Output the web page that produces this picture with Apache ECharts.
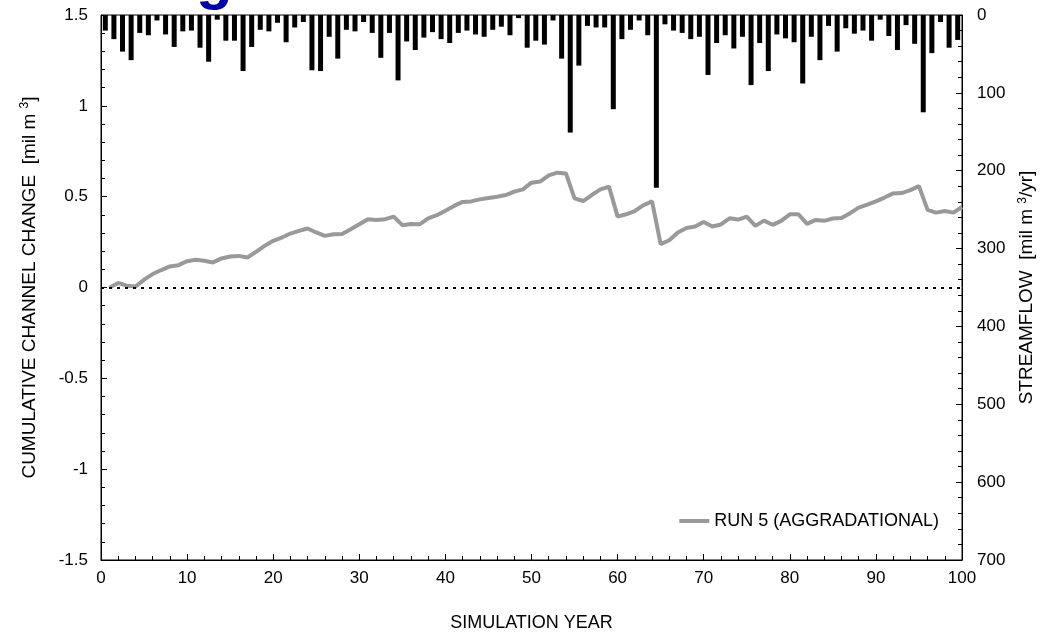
<!DOCTYPE html>
<html>
<head>
<meta charset="utf-8">
<script src="https://cdn.jsdelivr.net/npm/echarts@6/dist/echarts.min.js"></script>
<style>
  html, body { margin: 0; padding: 0; background: #fff; }
  #chart { width: 1050px; height: 637px; }
</style>
</head>
<body>
<div id="chart"></div>
<script>
"use strict";

// simulation years (line points at year end, bars span each year)
const years = Array.from({ length: 100 }, (_, i) => i + 1);

// cumulative channel change, run 5 [mil m3]
const channelChange = [
  0.00, 0.025, 0.01, 0.005, 0.043, 0.074, 0.096, 0.116, 0.123, 0.145,
  0.153, 0.147, 0.138, 0.160, 0.171, 0.174, 0.165, 0.196, 0.229, 0.257,
  0.275, 0.297, 0.312, 0.325, 0.303, 0.284, 0.293, 0.295, 0.321, 0.348,
  0.376, 0.372, 0.376, 0.390, 0.343, 0.350, 0.348, 0.381, 0.398, 0.423,
  0.449, 0.471, 0.474, 0.485, 0.493, 0.500, 0.509, 0.528, 0.540, 0.577,
  0.583, 0.617, 0.632, 0.628, 0.491, 0.476, 0.509, 0.540, 0.555, 0.390,
  0.403, 0.421, 0.453, 0.474, 0.239, 0.260, 0.303, 0.328, 0.336, 0.361,
  0.336, 0.347, 0.381, 0.374, 0.390, 0.339, 0.368, 0.345, 0.367, 0.403,
  0.403, 0.350, 0.372, 0.367, 0.380, 0.383, 0.409, 0.440, 0.456, 0.474,
  0.495, 0.518, 0.520, 0.536, 0.558, 0.427, 0.412, 0.421, 0.412, 0.443
];

// annual streamflow [mil m3/yr]
const streamflow = [
  20, 31, 47, 58, 23, 26, 7, 25, 41, 21,
  20, 42, 60, 6, 33, 33, 72, 41, 19, 21,
  10, 35, 16, 9, 71, 72, 28, 56, 19, 21,
  9, 23, 55, 23, 84, 34, 45, 29, 22, 31,
  36, 23, 20, 25, 28, 19, 15, 26, 4, 42,
  33, 38, 7, 56, 151, 65, 14, 16, 16, 121,
  31, 19, 7, 26, 222, 12, 20, 23, 31, 28,
  77, 36, 26, 43, 28, 90, 36, 72, 25, 30,
  35, 88, 28, 58, 14, 47, 17, 24, 20, 33,
  6, 27, 45, 13, 37, 125, 49, 9, 42, 32
];

const seriesName = "RUN 5 (AGGRADATIONAL)";
const font = "Arial, 'Liberation Sans', sans-serif";

const chart = echarts.init(document.getElementById("chart"), null, {
  renderer: "canvas"
});

const tickStyle = { color: "#000", fontSize: 17, fontFamily: font };
const nameRich = {
  a: { fontSize: 19, fontFamily: font, color: "#000", lineHeight: 22 },
  s: { fontSize: 12, fontFamily: font, color: "#000", verticalAlign: "top", lineHeight: 22, padding: [0, 0, 9, 0] }
};

chart.setOption({
  animation: false,
  backgroundColor: "#fff",
  graphic: [
    {
      type: "text",
      left: 196,
      top: -49,
      style: {
        text: "g",
        font: "bold 60px Arial, 'Liberation Sans', sans-serif",
        fill: "#0000a8"
      }
    }
  ],
  grid: {
    left: 101,
    right: 88,
    top: 15,
    bottom: 75,
    show: true,
    borderColor: "#000",
    borderWidth: 1
  },
  legend: {
    right: 106,
    top: 507,
    icon: "rect",
    itemWidth: 30,
    itemHeight: 4,
    itemGap: 8,
    textStyle: { color: "#000", fontSize: 18, fontFamily: font },
    data: [seriesName]
  },
  xAxis: [
    {
      type: "value",
      min: 0,
      max: 100,
      interval: 10,
      name: "SIMULATION YEAR",
      nameLocation: "middle",
      nameGap: 54,
      nameTextStyle: { color: "#000", fontSize: 18, fontFamily: font },
      axisLine: { onZero: false, lineStyle: { color: "#000", width: 1 } },
      axisTick: { inside: true, length: 6, lineStyle: { color: "#000" } },
      minorTick: { show: true, splitNumber: 5, length: 4, lineStyle: { color: "#000" } },
      axisLabel: Object.assign({ margin: 10 }, tickStyle),
      splitLine: { show: false }
    },
    {
      type: "category",
      data: years,
      show: false,
      boundaryGap: true
    }
  ],
  yAxis: [
    {
      type: "value",
      min: -1.5,
      max: 1.5,
      interval: 0.5,
      position: "left",
      name: "{a|CUMULATIVE CHANNEL CHANGE  [mil m }{s|3}{a|]}",
      nameLocation: "middle",
      nameGap: 60,
      nameTextStyle: { rich: nameRich },
      axisLine: { show: true, onZero: false, lineStyle: { color: "#000", width: 1 } },
      axisTick: { show: true, inside: true, length: 6, lineStyle: { color: "#000" } },
      minorTick: { show: true, splitNumber: 5, length: 4, lineStyle: { color: "#000" } },
      axisLabel: Object.assign({ margin: 13 }, tickStyle),
      splitLine: { show: false }
    },
    {
      type: "value",
      min: 0,
      max: 700,
      interval: 100,
      inverse: true,
      position: "right",
      name: "{a|STREAMFLOW  [mil m }{s|3}{a|/yr]}",
      nameLocation: "middle",
      nameGap: 54,
      nameRotate: 90,
      nameTextStyle: { rich: nameRich },
      axisLine: { show: true, onZero: false, lineStyle: { color: "#000", width: 1 } },
      axisTick: { show: true, inside: true, length: 6, lineStyle: { color: "#000" } },
      minorTick: { show: true, splitNumber: 5, length: 4, lineStyle: { color: "#000" } },
      axisLabel: Object.assign({ margin: 15 }, tickStyle),
      splitLine: { show: false }
    }
  ],
  series: [
    {
      name: "STREAMFLOW",
      type: "bar",
      xAxisIndex: 1,
      yAxisIndex: 1,
      data: streamflow,
      barWidth: 5,
      itemStyle: { color: "#000" },
      z: 2
    },
    {
      name: seriesName,
      type: "line",
      xAxisIndex: 0,
      yAxisIndex: 0,
      data: years.map((y, i) => [y, channelChange[i]]),
      symbol: "none",
      lineStyle: { color: "#999", width: 4 },
      itemStyle: { color: "#999" },
      z: 3,
      markLine: {
        silent: true,
        symbol: "none",
        label: { show: false },
        lineStyle: { color: "#000", type: [3, 5], width: 2 },
        data: [{ yAxis: 0 }]
      }
    }
  ]
});

window.onresize = () => {
  chart.resize();
};
</script>
</body>
</html>
